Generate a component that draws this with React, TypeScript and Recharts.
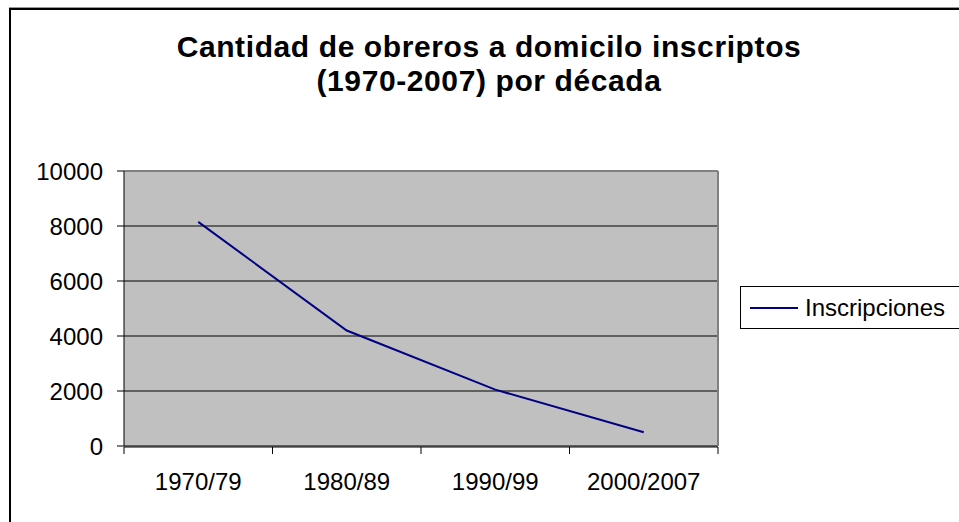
import React from 'react';
import {
  LineChart, Line, XAxis, YAxis, CartesianGrid, Legend, ReferenceLine
} from 'recharts';

const categories = ['1970/79', '1980/89', '1990/99', '2000/2007'];
const inscripciones = [8150, 4200, 2050, 500];
const yTicks = [0, 2000, 4000, 6000, 8000, 10000];
const titleLines = ['Cantidad de obreros a domicilo inscriptos', '(1970-2007) por década'];
const seriesName = 'Inscripciones';

const FONT = '"Liberation Sans", Arial, sans-serif';

// Excel-style: ticks on category boundaries, labels and points at the centres
const data = categories.map((name, i) => ({ pos: i + 0.5, name, value: inscripciones[i] }));
const boundaryTicks = Array.from({ length: categories.length + 1 }, (_, i) => i);
const labelTicks = data.map((d) => d.pos);

const LegendBox = (props: any) => {
  const { payload } = props;
  return (
    <div
      style={{
        display: 'flex', alignItems: 'center', height: 43, boxSizing: 'border-box',
        border: '1px solid #000', paddingLeft: 9, width: 260, background: '#fff',
        fontFamily: FONT, fontSize: 24, color: '#000'
      }}
    >
      {(payload || []).map((entry: any) => (
        <React.Fragment key={entry.value}>
          <span style={{ display: 'inline-block', width: 48, height: 2, background: entry.color, marginRight: 7 }} />
          <span>{entry.value}</span>
        </React.Fragment>
      ))}
    </div>
  );
};

export default function App() {
  return (
    <div style={{ position: 'absolute', left: 0, top: 0, width: 959, height: 522, overflow: 'hidden', background: '#fff' }}>
      <div
        style={{
          position: 'absolute', left: 9, top: 8, width: 980, height: 540,
          border: '2px solid #000', boxSizing: 'border-box', boxShadow: '0 -1px 0 #999'
        }}
      />
      <svg width={959} height={130} style={{ position: 'absolute', left: 0, top: 0 }}>
        {titleLines.map((t, i) => (
          <text
            key={t}
            x={489}
            y={57 + i * 33.5}
            textAnchor="middle"
            fontFamily={FONT}
            fontWeight="bold"
            fontSize={30}
            letterSpacing={0.6}
            fill="#000"
          >
            {t}
          </text>
        ))}
      </svg>
      <div style={{ position: 'absolute', left: 0, top: 0 }}>
        {/* two thin x axes stacked on the plot bottom; margin.bottom keeps room for the labels */}
        <LineChart width={959} height={522} data={data} margin={{ top: 171, right: 241, bottom: 74, left: 0 }}>
          <CartesianGrid vertical={false} stroke="#000" fill="#C0C0C0" fillOpacity={1} />
          <XAxis
            xAxisId="grid"
            type="number"
            dataKey="pos"
            domain={[0, categories.length]}
            ticks={boundaryTicks}
            tickFormatter={() => ''}
            tickSize={7}
            height={1}
            axisLine={{ stroke: '#000' }}
            tickLine={{ stroke: '#000' }}
          />
          <XAxis
            xAxisId="cat"
            type="number"
            dataKey="pos"
            domain={[0, categories.length]}
            ticks={labelTicks}
            tickFormatter={(v: number) => categories[Math.floor(v)]}
            axisLine={false}
            tickLine={false}
            tickSize={0}
            tickMargin={27}
            height={1}
            tick={{ fontSize: 24, fill: '#000', fontFamily: FONT }}
          />
          <YAxis
            domain={[0, 10000]}
            ticks={yTicks}
            width={124}
            tickSize={7}
            tickMargin={14}
            axisLine={{ stroke: '#000' }}
            tickLine={{ stroke: '#000' }}
            tick={{ fontSize: 24, fill: '#000', fontFamily: FONT }}
          />
          <ReferenceLine xAxisId="grid" y={10000} stroke="#808080" strokeWidth={2} />
          <ReferenceLine xAxisId="grid" x={categories.length} stroke="#808080" strokeWidth={2} />
          <Legend
            layout="horizontal"
            align="center"
            verticalAlign="middle"
            content={<LegendBox />}
            wrapperStyle={{ left: 740, top: 286, width: 260 }}
          />
          <Line
            xAxisId="cat"
            type="linear"
            dataKey="value"
            name={seriesName}
            stroke="#000080"
            strokeWidth={2}
            dot={false}
            isAnimationActive={false}
          />
        </LineChart>
      </div>
    </div>
  );
}
